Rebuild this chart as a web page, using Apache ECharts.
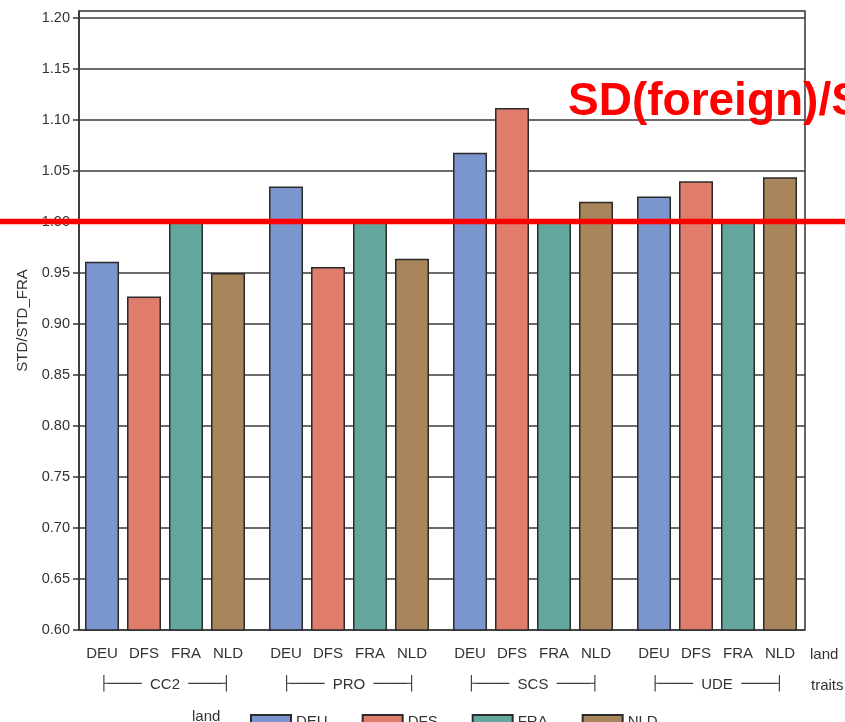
<!DOCTYPE html>
<html>
<head>
<meta charset="utf-8">
<script src="https://cdn.jsdelivr.net/npm/echarts@6/dist/echarts.min.js"></script>
<style>
  html, body { margin: 0; padding: 0; background: #fff; }
  #chart { width: 845px; height: 722px; }
</style>
</head>
<body>
<div id="chart"></div>
<script>
// traits on the x axis, one bar per land inside each trait
const traits = ['CC2', 'PRO', 'SCS', 'UDE']
const lands = ['DEU', 'DFS', 'FRA', 'NLD']
const deuValues = [0.961, 1.035, 1.068, 1.025]
const dfsValues = [0.927, 0.956, 1.112, 1.040]
const fraValues = [1.000, 1.000, 1.000, 1.000]
const nldValues = [0.950, 0.964, 1.020, 1.044]
const yTicks = [0.60, 0.65, 0.70, 0.75, 0.80, 0.85, 0.90, 0.95, 1.00, 1.05, 1.10, 1.15, 1.20]
const landColors = ['#7b95cd', '#e07c6b', '#64a79e', '#a8855a']

const valuesByLand = [deuValues, dfsValues, fraValues, nldValues]
const font = 'Liberation Sans'
const textColor = '#333'

const myChart = echarts.init(document.getElementById('chart'))

const series = lands.map((land, i) => ({
  name: land,
  type: 'bar',
  xAxisIndex: 0,
  yAxisIndex: 0,
  data: valuesByLand[i],
  barWidth: 34,
  barGap: '23.5%',
  itemStyle: {
    color: landColors[i],
    borderColor: '#2b2b2b',
    borderWidth: 1.5
  },
  // land name under every bar
  label: {
    show: true,
    position: 'insideBottom',
    offset: [0, 36],
    formatter: '{a}',
    color: textColor,
    fontFamily: font,
    fontSize: 15,
    textBorderWidth: 0
  },
  emphasis: { disabled: true }
}))

const option = {
  animation: false,
  backgroundColor: '#fff',
  grid: [
    // bars
    { left: 73, right: 36, top: 11, bottom: 92 },
    // frame + visible y axis
    { left: 79, right: 40, top: 11, bottom: 92, show: true, borderColor: '#333', borderWidth: 1.5, backgroundColor: 'transparent' }
  ],
  xAxis: [
    {
      gridIndex: 0,
      type: 'category',
      data: traits,
      axisLine: { show: false },
      axisTick: { show: false },
      axisLabel: {
        interval: 0,
        hideOverlap: false,
        margin: 47,
        formatter: v => '{b|├────}  ' + v + '  {b|────┤}',
        color: textColor,
        fontFamily: font,
        fontSize: 15,
        rich: {
          b: { fontFamily: 'DejaVu Sans Mono', fontSize: 14, color: textColor }
        }
      }
    },
    { gridIndex: 1, type: 'category', data: traits, show: false }
  ],
  yAxis: [
    { gridIndex: 0, type: 'value', min: 0.6, max: 1.207, show: false },
    {
      gridIndex: 1,
      type: 'value',
      min: 0.6,
      max: 1.207,
      interval: 0.05,
      name: 'STD/STD_FRA',
      nameLocation: 'middle',
      nameGap: 49,
      nameTextStyle: { color: textColor, fontFamily: font, fontSize: 15 },
      axisLine: { show: true, lineStyle: { color: '#333', width: 1.5 } },
      axisTick: { show: true, length: 6, customValues: yTicks, lineStyle: { color: '#333', width: 1.5 } },
      axisLabel: {
        margin: 9,
        customValues: yTicks,
        color: textColor,
        fontFamily: font,
        fontSize: 14.5,
        formatter: v => (Math.abs(v * 20 - Math.round(v * 20)) < 1e-6 ? v.toFixed(2) : '')
      },
      splitLine: { show: true, lineStyle: { color: '#3a3a3a', width: 1.5 } }
    }
  ],
  legend: {
    data: lands,
    left: 245,
    top: 709,
    icon: 'rect',
    itemWidth: 40,
    itemHeight: 14,
    itemGap: 34,
    textStyle: { color: textColor, fontFamily: font, fontSize: 15 }
  },
  series: series
}

option && myChart.setOption(option)

// red annotation line sits on value 1.00 of the visible axis
const oneY = myChart.convertToPixel({ yAxisIndex: 1 }, 1.0)
myChart.setOption({
  graphic: [
    { type: 'text', x: 810, y: 655, style: { text: 'land', fill: textColor, font: '15px "Liberation Sans"', verticalAlign: 'middle' } },
    { type: 'text', x: 811, y: 686, style: { text: 'traits', fill: textColor, font: '15px "Liberation Sans"', verticalAlign: 'middle' } },
    { type: 'text', x: 192, y: 717, style: { text: 'land', fill: textColor, font: '15px "Liberation Sans"', verticalAlign: 'middle' } },
    { type: 'line', z: 100, shape: { x1: 0, y1: oneY - 0.5, x2: 845, y2: oneY - 0.5 }, style: { stroke: '#ff0000', lineWidth: 5.5 } },
    { type: 'text', z: 101, x: 568, y: 102, style: { text: 'SD(foreign)/SD(FRA)', fill: '#ff0000', font: 'bold 46px "Liberation Sans"', verticalAlign: 'middle' } }
  ]
})
</script>
</body>
</html>
